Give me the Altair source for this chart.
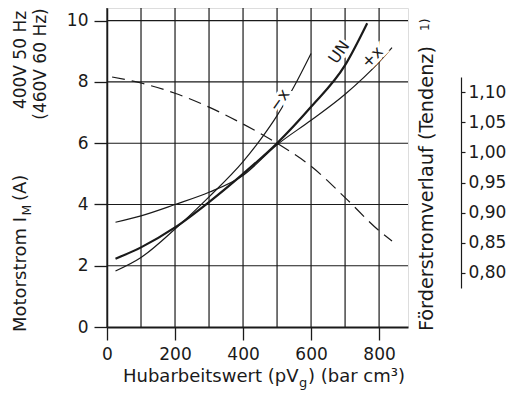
import altair as alt
import pandas as pd

# ---- data ----
x_un = [25, 100, 200, 300, 400, 500, 600, 700, 765]
y_un = [2.23, 2.6, 3.25, 4.08, 5.0, 6.0, 7.19, 8.55, 9.92]
x_plus = [25, 100, 200, 300, 400, 500, 600, 700, 800, 838]
y_plus = [3.42, 3.63, 4.0, 4.4, 4.95, 5.95, 6.75, 7.6, 8.65, 9.12]
x_minus = [25, 100, 200, 300, 400, 450, 500, 550, 600]
y_minus = [1.83, 2.27, 3.2, 4.25, 5.4, 6.1, 6.9, 7.85, 8.93]
x_flow = [15, 100, 200, 300, 400, 500, 600, 700, 800, 838]
y_flow = [1.125, 1.115, 1.098, 1.075, 1.047, 1.015, 0.977, 0.925, 0.870, 0.853]

grid_x = [0, 100, 200, 300, 400, 500, 600, 700, 800]
grid_y = [2, 4, 6, 8, 10]
x_ticks = [0, 200, 400, 600, 800]
y_ticks = [0, 2, 4, 6, 8, 10]
r_ticks = [0.80, 0.85, 0.90, 0.95, 1.00, 1.05, 1.10]

lab_text = ["\u2212x", "UN", "+x"]
lab_x = [507, 683, 780]
lab_y = [7.4, 8.97, 8.81]
lab_angle = [305, 305, 315]

FONT = "DejaVu Sans"
INK = "#1a1a1a"
W, H = 301, 319

xs = alt.Scale(domain=[0, 885], nice=False, zero=False)
ys = alt.Scale(domain=[0, 10.415], nice=False, zero=False)
ys_r = alt.Scale(domain=[0.775, 1.125], range=[280, 69], nice=False, zero=False)

AX_X = alt.Axis(
    values=x_ticks, title=None, grid=False, tickSize=13, tickColor=INK, tickWidth=1.3,
    domainColor=INK, domainWidth=1.8, labelFont=FONT, labelFontSize=17, labelColor=INK,
    labelPadding=6, labelFlush=False)
AX_Y = alt.Axis(
    values=y_ticks, title=None, grid=False, tickSize=13, tickColor=INK, tickWidth=1.3,
    domainColor=INK, domainWidth=1.5, labelFont=FONT, labelFontSize=17, labelColor=INK,
    labelPadding=6, orient="left")

X = alt.X("x:Q", scale=xs, axis=AX_X)
Y = alt.Y("y:Q", scale=ys, axis=AX_Y)

def curve_df(xv, yv):
    return pd.DataFrame({"x": xv, "y": yv})

vgrid = alt.Chart(pd.DataFrame({"x": grid_x})).mark_rule(color=INK, strokeWidth=1.2).encode(x=X)
hgrid = alt.Chart(pd.DataFrame({"y": grid_y})).mark_rule(color=INK, strokeWidth=1.2).encode(y=Y)

line_un = alt.Chart(curve_df(x_un, y_un)).mark_line(
    color=INK, strokeWidth=2.2, interpolate="monotone").encode(x=X, y=Y)
line_plus = alt.Chart(curve_df(x_plus, y_plus)).mark_line(
    color=INK, strokeWidth=1.2, interpolate="monotone").encode(x=X, y=Y)
line_minus = alt.Chart(curve_df(x_minus, y_minus)).mark_line(
    color=INK, strokeWidth=1.2, interpolate="monotone").encode(x=X, y=Y)

labels_df = pd.DataFrame({"t": lab_text, "x": lab_x, "y": lab_y, "a": lab_angle})
halo = alt.Chart(labels_df).mark_text(
    font=FONT, fontSize=16, stroke="white", strokeWidth=6, color="white",
    align="center", baseline="middle").encode(
    x=X, y=Y, text="t:N", angle=alt.Angle("a:Q", scale=None))
labels = alt.Chart(labels_df).mark_text(
    font=FONT, fontSize=16, color=INK, align="center", baseline="middle").encode(
    x=X, y=Y, text="t:N", angle=alt.Angle("a:Q", scale=None))

def txt(s, x, y, size, angle=0, align="center"):
    return alt.Chart(pd.DataFrame({"t": [s]})).mark_text(
        font=FONT, fontSize=size, color=INK, angle=angle, align=align, baseline="alphabetic"
    ).encode(text="t:N", x=alt.value(x), y=alt.value(y))

titles = [
    txt("400V 50 Hz", -81, 52, 17, 270),
    txt("(460V 60 Hz)", -61.5, 56, 17, 270),
    txt("Motorstrom I", -81, 324, 18, 270, "left"),
    txt("M", -76.5, 207.5, 12.5, 270, "left"),
    txt("(A)", -81, 193, 18, 270, "left"),
    txt("Hubarbeitswert (pV", 16, 374, 18, 0, "left"),
    txt("g", 192, 379, 13, 0, "left"),
    txt(") (bar cm\u00b3)", 201, 374, 18, 0, "left"),
    txt("F\u00f6rderstromverlauf (Tendenz)", 326, 38, 19.3, 270, "right"),
    txt("1)", 322, 23, 12, 270, "left"),
]

left = alt.layer(vgrid, hgrid, line_minus, line_plus, line_un, halo, labels, *titles)

flow = alt.Chart(curve_df(x_flow, y_flow)).mark_line(
    color=INK, strokeWidth=1.2, strokeDash=[13, 7], interpolate="monotone").encode(
    x=X,
    y=alt.Y("y:Q", scale=ys_r, axis=alt.Axis(
        orient="right", values=r_ticks, title=None, grid=False, offset=53, tickSize=4,
        tickColor=INK, tickWidth=1.2, domainColor=INK, domainWidth=1.2, labelFont=FONT,
        labelFontSize=17, labelColor=INK, labelPadding=3,
        labelExpr="replace(format(datum.value, '.2f'), '.', ',')")),
)

chart = alt.layer(left, flow).resolve_scale(y="independent").properties(
    width=W, height=H,
    autosize=alt.AutoSizeParams(type="none"),
    padding={"left": 99, "top": 0, "right": 104, "bottom": 64},
).configure_view(stroke=None).configure(background="white")

chart.save("out.html", embed_options={"renderer": "svg", "actions": False})
